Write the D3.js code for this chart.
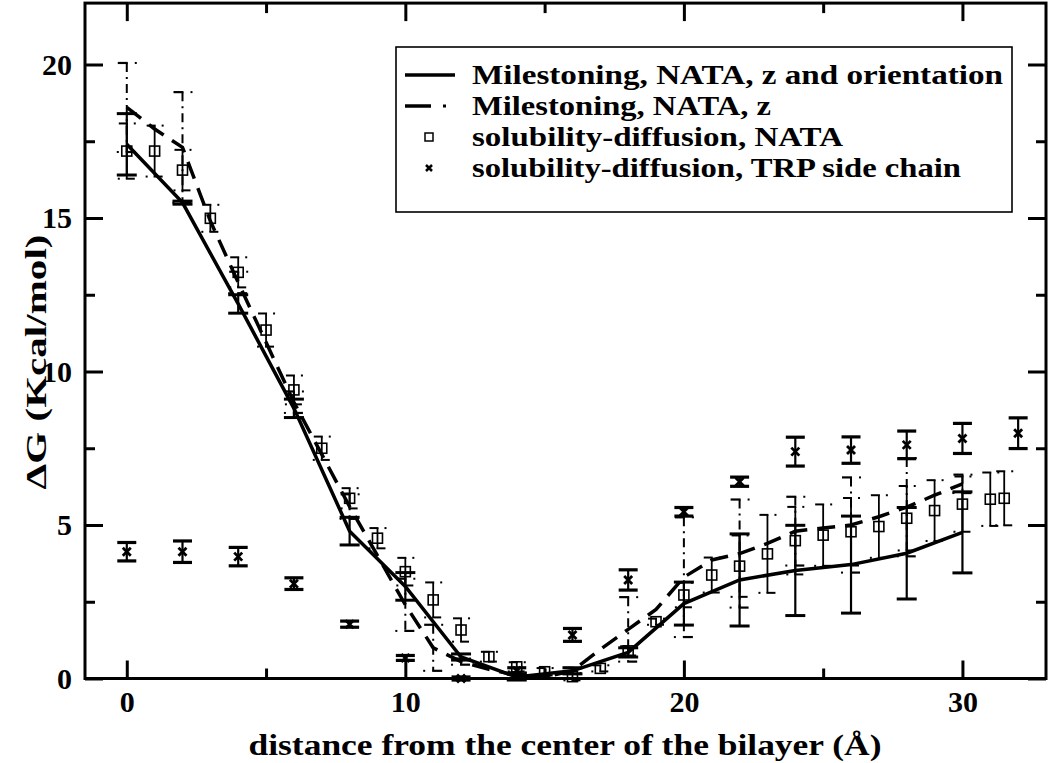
<!DOCTYPE html>
<html><head><meta charset="utf-8">
<script src="https://cdn.jsdelivr.net/npm/d3@7"></script>
<style>
body{margin:0;background:#fff}
text{font-family:"Liberation Serif","Times New Roman",serif;font-weight:bold;fill:#000}
</style>
</head><body>
<svg id="c" width="1050" height="763"></svg>
<script>
// ---- tick values ----
const xMajor = [0, 10, 20, 30];
const xMinor = [5, 15, 25];
const yMajor = [0, 5, 10, 15, 20];
const yMinor = [2.5, 7.5, 12.5, 17.5];

// ---- Milestoning, NATA, z and orientation (solid) ----
const solidX   = [0, 2, 4, 6, 8, 10, 12, 14, 16, 18, 20, 22, 24, 26, 28, 30];
const solidY   = [17.4, 15.5, 12.2, 8.8, 4.8, 3.0, 0.7, 0.05, 0.25, 0.85, 2.44, 3.21, 3.52, 3.71, 4.08, 4.76];
const solidErr = [1.0, 0.05, 0.3, 0.3, 0.45, 0.45, 0.1, 0.1, 0.1, 0.15, 0.7, 1.5, 1.47, 1.58, 1.49, 1.32];

// ---- Milestoning, NATA, z (dashed) ----
const dashX   = [0,1,2,3,4,5,6,7,8,9,10,11,12,13,14,15,16,17,18,19,20,21,22,23,24,25,26,27,28,29,30];
const dashY   = [18.6,17.9,17.3,14.9,12.9,10.95,9.0,7.3,5.6,4.0,2.4,1.0,0.55,0.3,0.1,0.05,0.25,0.95,1.6,2.25,3.3,3.86,4.07,4.4,4.8,4.9,5.0,5.27,5.58,5.97,6.34];
const dashErr = [1.45,0,1.8,0,0.35,0,0.35,0,0.4,0,0.85,0.75,0.1,0,0.1,0,0.1,0,1.05,0,1.95,0,1.76,0,1.12,0,1.55,0,1.6,0,0.3];

// ---- solubility-diffusion, NATA (squares) ----
const sqX   = [0,1,2,3,4,5,6,7,8,9,10,11,12,13,14,15,16,17,18,19,20,21,22,23,24,25,26,27,28,29,30,31,31.5];
const sqY   = [17.18,17.18,16.56,14.99,13.23,11.35,9.4,7.5,5.87,4.57,3.48,2.56,1.58,0.71,0.38,0.22,0.06,0.33,0.9,1.85,2.72,3.37,3.66,4.06,4.49,4.67,4.78,4.95,5.22,5.47,5.68,5.84,5.87];
const sqErr = [0.9,0.83,0.66,0.44,0.49,0.54,0.47,0.38,0.33,0.33,0.45,0.57,0.38,0.16,0.15,0.12,0.12,0.1,0.15,0.1,0.4,0.57,1.0,1.27,1.1,1.0,1.1,1.02,1.05,0.99,0.9,0.87,0.88];

// ---- solubility-diffusion, TRP side chain (x marks) ----
const trpX   = [0,2,4,6,8,10,12,14,16,18,20,22,24,26,28,30,32];
const trpY   = [4.13,4.13,3.97,3.09,1.77,0.67,0.0,0.25,1.42,3.21,5.43,6.41,7.39,7.44,7.61,7.82,7.99];
const trpErr = [0.3,0.35,0.3,0.19,0.1,0.08,0.05,0.1,0.21,0.33,0.14,0.15,0.47,0.43,0.45,0.49,0.5];

// ---- legend / labels ----
const legendLabels = ["Milestoning, NATA, z and orientation","Milestoning, NATA, z","solubility-diffusion, NATA","solubility-diffusion, TRP side chain"];
const xTitle = "distance from the center of the bilayer (Å)";
const yTitle = "ΔG (Kcal/mol)";

const svg = d3.select("#c");
const x = d3.scaleLinear().domain([-1.5, 33]).range([85, 1046]);
const y = d3.scaleLinear().domain([0, 22]).range([678.5, 3.1]);

function stretch(sel, k) {
  sel.each(function () {
    const L = this.getComputedTextLength();
    d3.select(this).attr("textLength", L * k).attr("lengthAdjust", "spacingAndGlyphs");
  });
}

// ---------- error bars ----------
const gErr = svg.append("g");
function solidBars(xs, ys, es, capHalf, vw, cw) {
  xs.forEach((xv, i) => {
    const e = es[i]; if (!e) return;
    const cx = x(xv), t = y(ys[i] + e), b = y(ys[i] - e);
    gErr.append("line").attr("x1", cx).attr("x2", cx).attr("y1", t).attr("y2", b).attr("stroke", "#000").attr("stroke-width", vw);
    [t, b].forEach(yy => gErr.append("line").attr("x1", cx - capHalf).attr("x2", cx + capHalf).attr("y1", yy).attr("y2", yy).attr("stroke", "#000").attr("stroke-width", cw));
  });
}
function dashDotCaps(cx, t, b, half, w) {
  gErr.append("line").attr("x1", cx - half).attr("x2", cx + 1).attr("y1", t).attr("y2", t).attr("stroke", "#000").attr("stroke-width", w);
  gErr.append("rect").attr("x", cx + half - 1).attr("y", t - 1).attr("width", 2).attr("height", 2).attr("fill", "#000");
  gErr.append("line").attr("x1", cx - 1).attr("x2", cx + half).attr("y1", b).attr("y2", b).attr("stroke", "#000").attr("stroke-width", w);
  gErr.append("rect").attr("x", cx - half - 1).attr("y", b - 1).attr("width", 2).attr("height", 2).attr("fill", "#000");
}
sqX.forEach((xv, i) => {
  const e = sqErr[i]; if (!e) return;
  const cx = x(xv), t = y(sqY[i] + e), b = y(sqY[i] - e);
  gErr.append("line").attr("x1", cx).attr("x2", cx).attr("y1", t).attr("y2", b).attr("stroke", "#000").attr("stroke-width", 1.8);
  dashDotCaps(cx, t, b, 8, 2);
});
dashX.forEach((xv, i) => {
  const e = dashErr[i]; if (!e) return;
  const cx = x(xv), t = y(dashY[i] + e), b = y(dashY[i] - e);
  gErr.append("line").attr("x1", cx).attr("x2", cx).attr("y1", t).attr("y2", b).attr("stroke", "#000").attr("stroke-width", 2).attr("stroke-dasharray", "9,5,2,5");
  dashDotCaps(cx, t, b, 9, 2.2);
});
solidBars(solidX, solidY, solidErr, 10, 2.2, 3);
solidBars(trpX, trpY, trpErr, 9.5, 2.2, 3.2);

// ---------- lines ----------
const line = d3.line().x(d => x(d[0])).y(d => y(d[1]));
svg.append("path").datum(dashX.map((v, i) => [v, dashY[i]]))
  .attr("d", line).attr("fill", "none").attr("stroke", "#000").attr("stroke-width", 3.5)
  .attr("stroke-dasharray", "18,10");
svg.append("path").datum(solidX.map((v, i) => [v, solidY[i]]))
  .attr("d", line).attr("fill", "none").attr("stroke", "#000").attr("stroke-width", 3.5);

// ---------- markers ----------
svg.append("g").selectAll("rect").data(sqX.map((v, i) => [v, sqY[i]])).join("rect")
  .attr("x", d => x(d[0]) - 5).attr("y", d => y(d[1]) - 5).attr("width", 10).attr("height", 10)
  .attr("fill", "none").attr("stroke", "#000").attr("stroke-width", 1.6);
const xPath = s => `M${-s},${-s}L${s},${s}M${-s},${s}L${s},${-s}`;
svg.append("g").selectAll("path").data(trpX.map((v, i) => [v, trpY[i]])).join("path")
  .attr("transform", d => `translate(${x(d[0])},${y(d[1])})`).attr("d", xPath(4))
  .attr("stroke", "#000").attr("stroke-width", 2.8).attr("fill", "none");

// ---------- axes ----------
function styleAxis(g, labels) {
  g.select(".domain").remove();
  g.selectAll(".tick line").attr("stroke", "#000").attr("stroke-width", 3);
  g.selectAll(".tick text").style("font-size", "30px").attr("fill", "#000");
  if (!labels) g.selectAll(".tick text").remove();
}
const y0 = y(0), yT = y(22), xL = x(-1.5), xR = x(33);
svg.append("g").attr("transform", `translate(0,${y0})`).call(d3.axisBottom(x).tickValues(xMajor).tickSize(-18).tickPadding(12).tickFormat(d3.format("d"))).call(g => styleAxis(g, true));
svg.append("g").attr("transform", `translate(0,${y0})`).call(d3.axisBottom(x).tickValues(xMinor).tickSize(-10)).call(g => styleAxis(g, false));
svg.append("g").attr("transform", `translate(0,${yT})`).call(d3.axisTop(x).tickValues(xMajor).tickSize(-18)).call(g => styleAxis(g, false));
svg.append("g").attr("transform", `translate(0,${yT})`).call(d3.axisTop(x).tickValues(xMinor).tickSize(-10)).call(g => styleAxis(g, false));
svg.append("g").attr("transform", `translate(${xL},0)`).call(d3.axisLeft(y).tickValues(yMajor).tickSize(-18).tickPadding(13).tickFormat(d3.format("d"))).call(g => styleAxis(g, true));
svg.append("g").attr("transform", `translate(${xL},0)`).call(d3.axisLeft(y).tickValues(yMinor).tickSize(-10)).call(g => styleAxis(g, false));
svg.append("g").attr("transform", `translate(${xR},0)`).call(d3.axisRight(y).tickValues(yMajor).tickSize(-18)).call(g => styleAxis(g, false));
svg.append("g").attr("transform", `translate(${xR},0)`).call(d3.axisRight(y).tickValues(yMinor).tickSize(-10)).call(g => styleAxis(g, false));
svg.append("rect").attr("x", xL).attr("y", yT).attr("width", xR - xL).attr("height", y0 - yT)
  .attr("fill", "none").attr("stroke", "#000").attr("stroke-width", 3);

// ---------- titles ----------
svg.append("text").attr("x", 565).attr("y", 755).attr("text-anchor", "middle").style("font-size", "30px")
  .attr("textLength", 633).attr("lengthAdjust", "spacingAndGlyphs").text(xTitle);
svg.append("text").attr("transform", "translate(46,362) rotate(-90)").attr("text-anchor", "middle").style("font-size", "30px")
  .attr("textLength", 255).attr("lengthAdjust", "spacingAndGlyphs").text(yTitle);

// ---------- legend ----------
const lg = svg.append("g");
lg.append("rect").attr("x", 396).attr("y", 47).attr("width", 616).attr("height", 165)
  .attr("fill", "#fff").attr("stroke", "#000").attr("stroke-width", 1.6);
const rowY = [75, 106, 137, 168];
const rowLen = [531, 299, 371, 489];
legendLabels.forEach((t, i) => {
  lg.append("text").attr("x", 472).attr("y", rowY[i] + 9).style("font-size", "27px")
    .attr("textLength", rowLen[i]).attr("lengthAdjust", "spacingAndGlyphs").text(t);
});
lg.append("line").attr("x1", 405).attr("x2", 455).attr("y1", rowY[0]).attr("y2", rowY[0]).attr("stroke", "#000").attr("stroke-width", 3.5);
lg.append("line").attr("x1", 405).attr("x2", 431).attr("y1", rowY[1]).attr("y2", rowY[1]).attr("stroke", "#000").attr("stroke-width", 3.5);
lg.append("rect").attr("x", 443).attr("y", rowY[1] - 1.5).attr("width", 3).attr("height", 3).attr("fill", "#000");
lg.append("rect").attr("x", 425).attr("y", rowY[2] - 4).attr("width", 8).attr("height", 8).attr("fill", "none").attr("stroke", "#000").attr("stroke-width", 1.5);
lg.append("path").attr("transform", `translate(429,${rowY[3]})`).attr("d", xPath(3)).attr("stroke", "#000").attr("stroke-width", 2.5);
</script>
</body></html>
